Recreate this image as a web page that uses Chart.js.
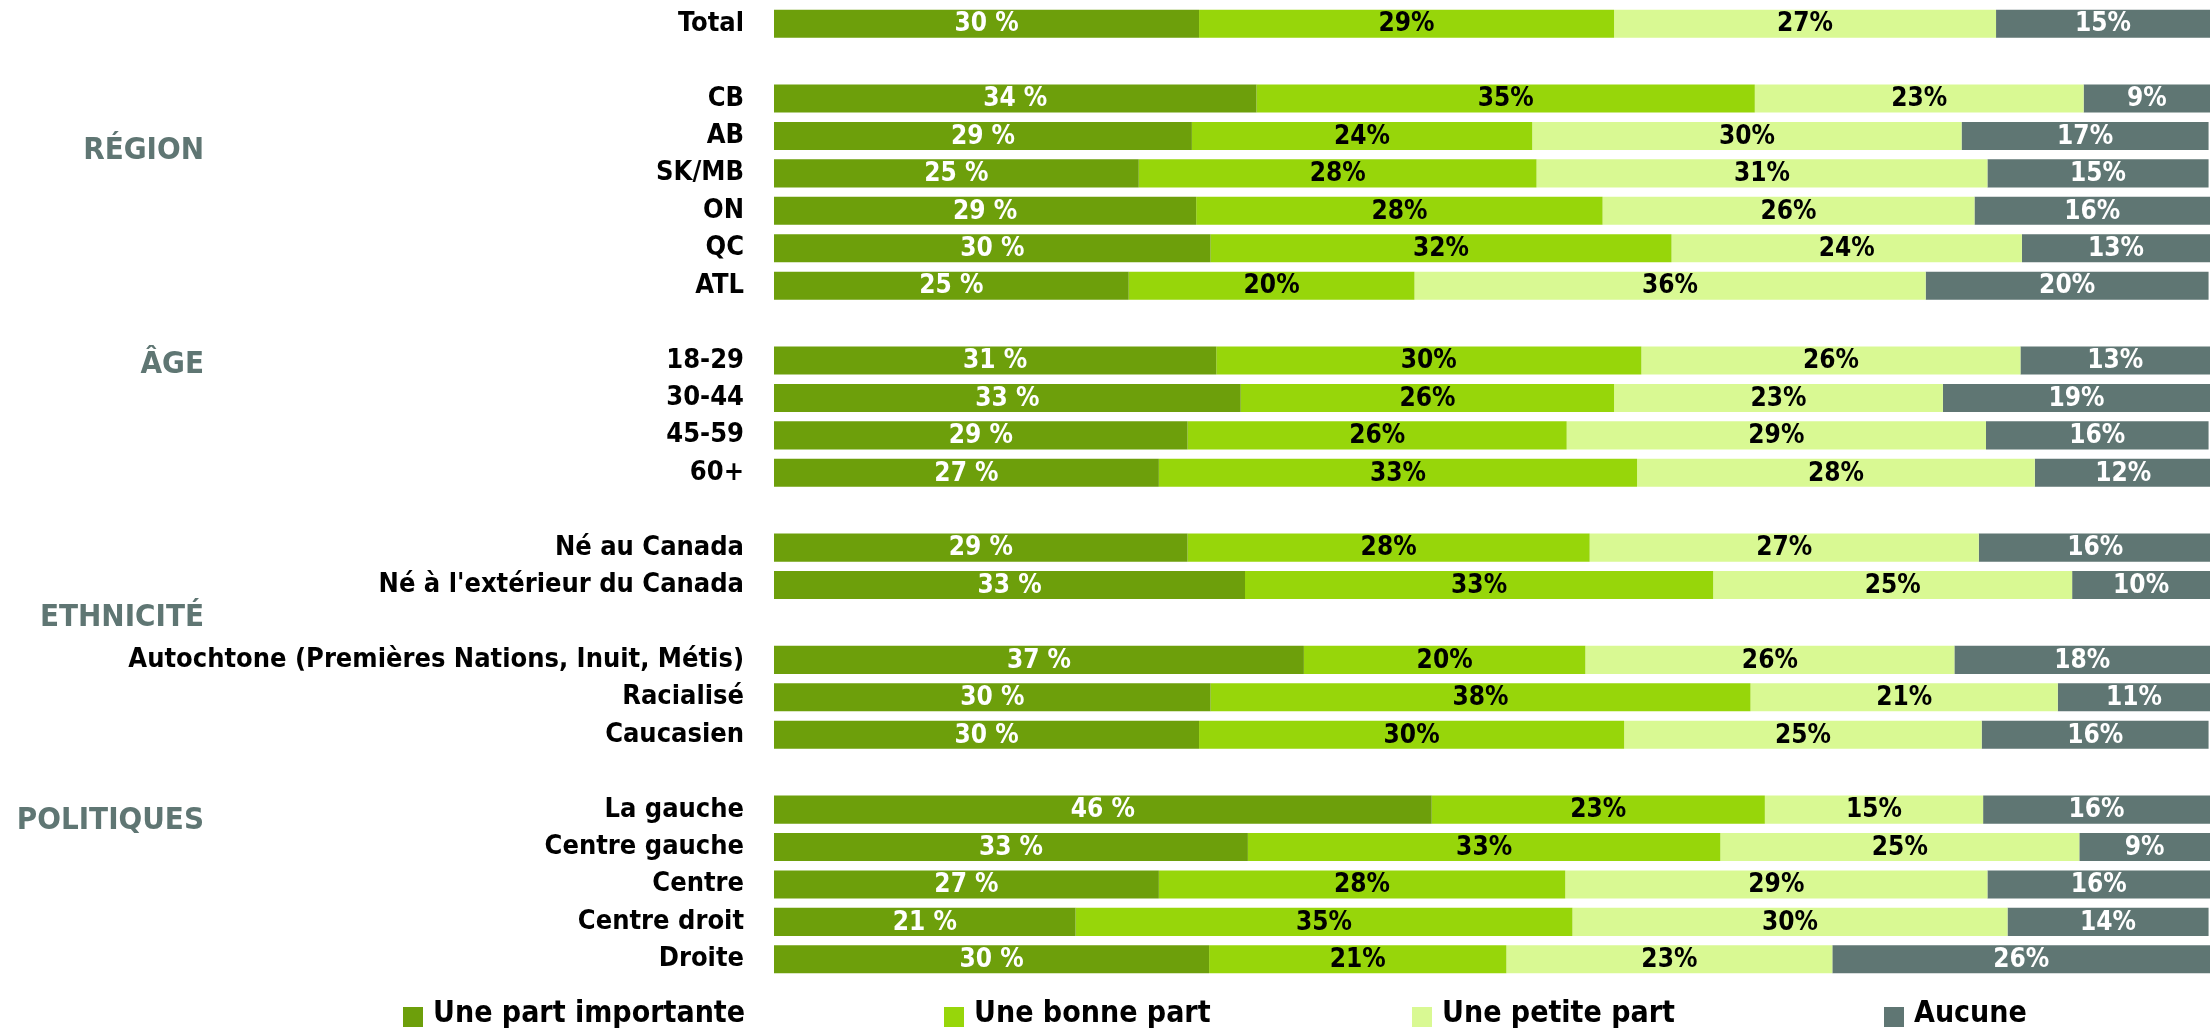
<!DOCTYPE html>
<html>
<head>
<meta charset="utf-8">
<script src="https://cdn.jsdelivr.net/npm/chart.js@4"></script>
<style>
html, body { margin: 0; padding: 0; background: #fff; }
#wrap { width: 2210px; height: 1034px; }
</style>
</head>
<body>
<div id="wrap"><canvas id="chart"></canvas></div>
<script>
const categories = ['Total', '', 'CB', 'AB', 'SK/MB', 'ON', 'QC', 'ATL', '', '18-29', '30-44', '45-59', '60+', '',
	'Né au Canada', "Né à l'extérieur du Canada", '', 'Autochtone (Premières Nations, Inuit, Métis)', 'Racialisé', 'Caucasien', '',
	'La gauche', 'Centre gauche', 'Centre', 'Centre droit', 'Droite'];
const importante = [29.6, null, 33.6, 29.1, 25.4, 29.4, 30.4, 24.7, null, 30.8, 32.5, 28.8, 26.8, null, 28.8, 32.8, null, 36.9, 30.4, 29.6, null, 45.8, 33.0, 26.8, 21.0, 30.3];
const bonne = [28.9, null, 34.7, 23.7, 27.7, 28.3, 32.1, 19.9, null, 29.6, 26.0, 26.4, 33.3, null, 28.0, 32.6, null, 19.6, 37.6, 29.6, null, 23.2, 32.9, 28.3, 34.6, 20.7];
const petite = [26.6, null, 22.9, 29.9, 31.4, 25.9, 24.4, 35.6, null, 26.4, 22.9, 29.2, 27.7, null, 27.1, 25.0, null, 25.7, 21.4, 24.9, null, 15.2, 25.0, 29.4, 30.3, 22.7];
const aucune = [14.9, null, 8.8, 17.2, 15.4, 16.4, 13.1, 19.7, null, 13.2, 18.6, 15.5, 12.3, null, 16.2, 9.6, null, 17.8, 10.6, 15.8, null, 15.8, 9.1, 15.5, 14.0, 26.3];
const seriesNames = ['Une part importante', 'Une bonne part', 'Une petite part', 'Aucune'];
const groupNames = ['RÉGION', 'ÂGE', 'ETHNICITÉ', 'POLITIQUES'];

// layout / styling
const colors = ['#6d9f0b', '#97d60a', '#d9f993', '#5f7673'];
const textColors = ['#fff', '#000', '#000', '#fff'];
const groupAt = [3.28, 9.0, 15.78, 21.2];
const legendX = [403, 944, 1412, 1884];
const FONT = '"DejaVu Sans Condensed", "DejaVu Sans", sans-serif';

const barLabels = {
	id: 'barLabels',
	afterDatasetsDraw(chart) {
		const ctx = chart.ctx;
		ctx.save();
		ctx.font = 'bold 26px ' + FONT;
		ctx.textAlign = 'center';
		ctx.textBaseline = 'middle';
		chart.data.datasets.forEach((ds, i) => {
			chart.getDatasetMeta(i).data.forEach((el, j) => {
				const v = ds.data[j];
				if (v == null) return;
				const txt = Math.round(v) + (i === 0 ? ' %' : '%');
				ctx.fillStyle = textColors[i];
				ctx.fillText(txt, (el.x + el.base) / 2, el.y + 1);
			});
		});
		ctx.restore();
	}
};

const extras = {
	id: 'extras',
	afterDraw(chart) {
		const ctx = chart.ctx;
		const y = chart.scales.y;
		// group titles
		ctx.save();
		ctx.font = 'bold 31px ' + FONT;
		ctx.fillStyle = '#5f7673';
		ctx.textAlign = 'right';
		ctx.textBaseline = 'middle';
		groupNames.forEach((g, i) => {
			ctx.fillText(g, 204, y.getPixelForValue(groupAt[i]) + 4);
		});
		ctx.restore();
		// legend
		ctx.save();
		ctx.font = 'bold 30px ' + FONT;
		ctx.textAlign = 'left';
		ctx.textBaseline = 'middle';
		seriesNames.forEach((s, i) => {
			ctx.fillStyle = colors[i];
			ctx.fillRect(legendX[i], 1007, 20, 20);
			ctx.fillStyle = '#000';
			ctx.fillText(s, legendX[i] + 30, 1014);
		});
		ctx.restore();
	}
};

const data = [importante, bonne, petite, aucune];

new Chart(document.getElementById('chart'), {
	type: 'bar',
	data: {
		labels: categories,
		datasets: data.map((d, i) => ({
			label: seriesNames[i],
			data: d,
			backgroundColor: colors[i],
			borderWidth: 0,
			barPercentage: 0.75,
			categoryPercentage: 1
		}))
	},
	options: {
		indexAxis: 'y',
		responsive: true,
		maintainAspectRatio: false,
		animation: false,
		layout: { padding: { top: 5, bottom: 56, left: 0, right: 0 } },
		plugins: { legend: { display: false }, tooltip: { enabled: false } },
		scales: {
			x: { stacked: true, min: 0, max: 100, display: false },
			y: {
				stacked: true,
				grid: { display: false, drawTicks: false },
				border: { display: false },
				ticks: { color: '#000', padding: 30, font: { family: FONT, weight: 'bold', size: 27 } },
				afterFit(scale) {
					scale.width = 774;
					scale.paddingTop = 0;
					scale.paddingBottom = 0;
				}
			}
		}
	},
	plugins: [barLabels, extras]
});
</script>
</body>
</html>
